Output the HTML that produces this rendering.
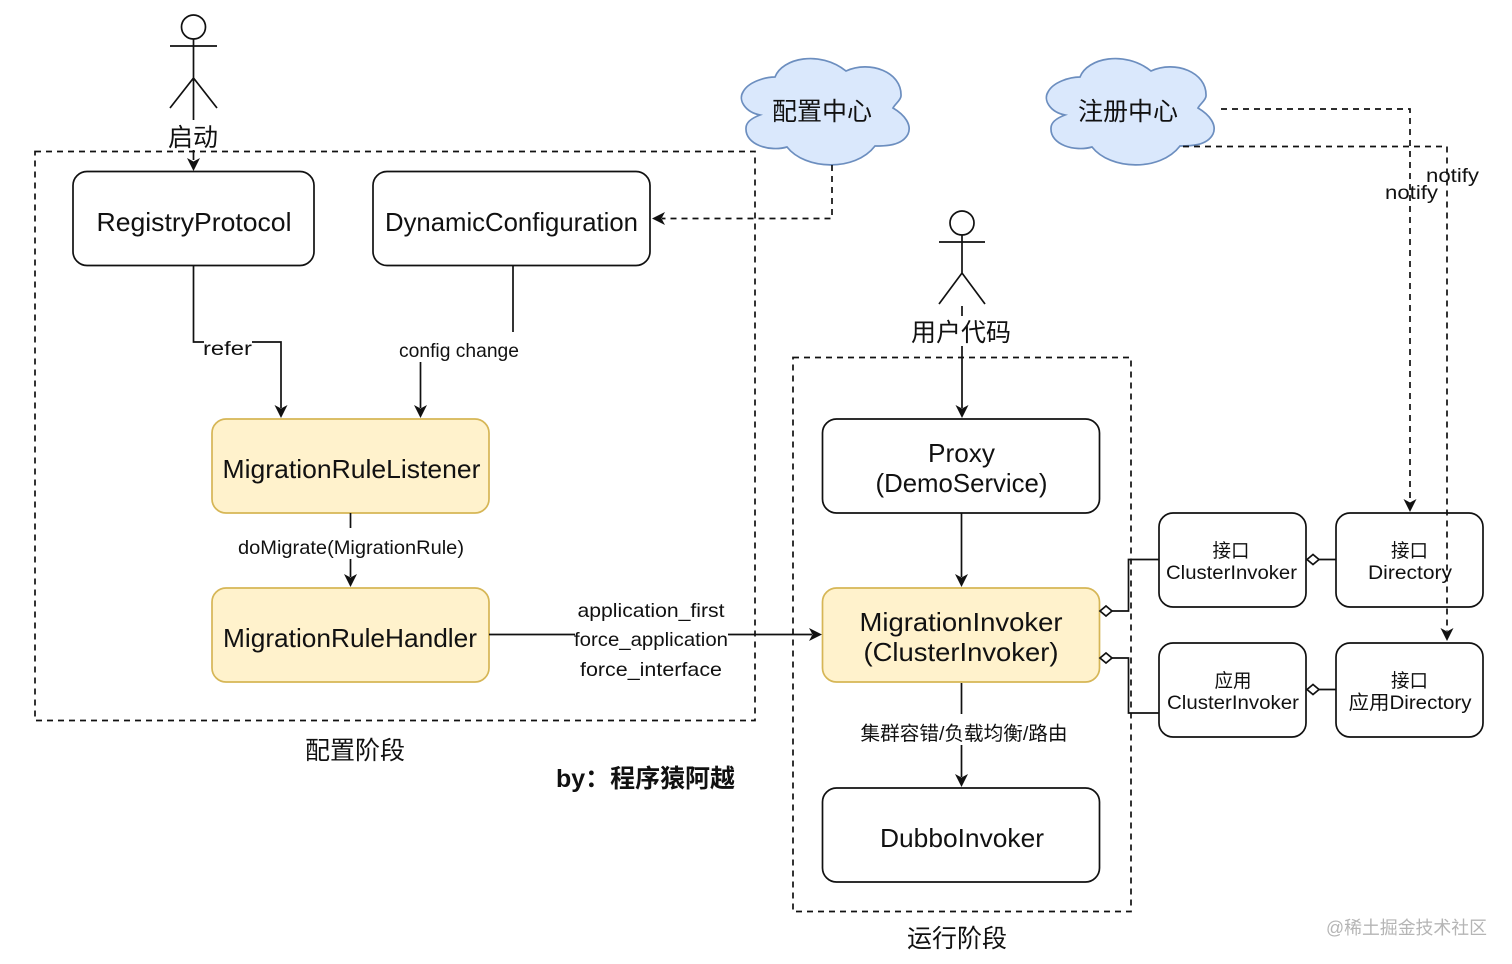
<!DOCTYPE html>
<html><head><meta charset="utf-8">
<style>
html,body{margin:0;padding:0;background:#fff;width:1512px;height:964px;overflow:hidden}
svg{display:block}
text{font-family:"Liberation Sans","Noto Sans CJK SC",sans-serif;fill:#111;text-anchor:middle}
.l{fill:none;stroke:#111;stroke-width:1.7}
.d{fill:none;stroke:#111;stroke-width:1.7;stroke-dasharray:6 5}
.n{fill:#fff;stroke:#111;stroke-width:1.7}
.y{fill:#fff2cc;stroke:#d6b656;stroke-width:1.7}
.c{fill:#dae8fc;stroke:#6c8ebf;stroke-width:1.7}
.a{fill:#111}
.dm{fill:#fff;stroke:#111;stroke-width:1.7}
</style></head><body>
<svg width="1512" height="964" viewBox="0 0 1512 964" xmlns="http://www.w3.org/2000/svg">
<rect x="35" y="151.500" width="720" height="569" class="d"/>
<rect x="793" y="357.500" width="338" height="554" class="d"/>

<circle cx="193.500" cy="27" r="12" class="l"/>
<path class="l" d="M193.500 39V120M170 46H217M170 108L193.500 78L217 108M193.500 150V160"/>
<path class="a" d="M187 158L193.500 161.500L200 158L193.500 171Z"/>
<circle cx="962" cy="223" r="12" class="l"/>
<path class="l" d="M962 235V273M939 242H985M939 304L962 273L985 304M962 306V316M962 346V408"/>
<path class="a" d="M955.500 405L962 408.500L968.500 405L962 418Z"/>

<path class="c" d="M775 77C782 58 820 50 846 71C870 60 902 72 901 96C901 100 895 104 893 108C905 115 912 125 908 134C902 146 885 146 875 146C855 172 805 170 787 147C770 152 745 145 746 128C746 122 752 118 760 115C745 112 738 100 743 92C748 82 765 77 775 77Z"/>
<path class="c" transform="translate(305 0)" d="M775 77C782 58 820 50 846 71C870 60 902 72 901 96C901 100 895 104 893 108C905 115 912 125 908 134C902 146 885 146 875 146C855 172 805 170 787 147C770 152 745 145 746 128C746 122 752 118 760 115C745 112 738 100 743 92C748 82 765 77 775 77Z"/>

<rect class="n" x="73" y="171.500" width="241" height="94" rx="14"/>
<rect class="n" x="373" y="171.500" width="277" height="94" rx="14"/>
<rect class="y" x="212" y="419" width="277" height="94" rx="14"/>
<rect class="y" x="212" y="588" width="277" height="94" rx="14"/>
<rect class="n" x="822.500" y="419" width="277" height="94" rx="14"/>
<rect class="y" x="822.500" y="588" width="277" height="94" rx="14"/>
<rect class="n" x="822.500" y="788" width="277" height="94" rx="14"/>
<rect class="n" x="1159" y="513" width="147" height="94" rx="14"/>
<rect class="n" x="1336" y="513" width="147" height="94" rx="14"/>
<rect class="n" x="1159" y="643" width="147" height="94" rx="14"/>
<rect class="n" x="1336" y="643" width="147" height="94" rx="14"/>

<path class="l" d="M193.500 265V342H204M252 342H281V408"/>
<path class="a" d="M274.500 405L281 408.500L287.500 405L281 418Z"/>
<path class="l" d="M513 265V332M420.500 362V408"/>
<path class="a" d="M414 405L420.500 408.500L427 405L420.500 418Z"/>
<path class="l" d="M350.500 513V528M350.500 559V577"/>
<path class="a" d="M344 574L350.500 577.500L357 574L350.500 587Z"/>
<path class="l" d="M489 634.500H575M728 634.500H812"/>
<path class="a" d="M809 628L812.500 634.500L809 641L822 634.500Z"/>
<path class="l" d="M961.500 513V577"/>
<path class="a" d="M955 574L961.500 577.500L968 574L961.500 587Z"/>
<path class="l" d="M961.500 683V714M961.500 745V777"/>
<path class="a" d="M955 774L961.500 777.500L968 774L961.500 787Z"/>

<path class="d" d="M832 165V218.500H662"/>
<path class="a" d="M665 212L661.500 218.500L665 225L652 218.500Z"/>
<path class="d" d="M1221 109H1410V502"/>
<path class="a" d="M1403.500 499L1410 502.500L1416.500 499L1410 512Z"/>
<path class="d" d="M1183 146.500H1447V631"/>
<path class="a" d="M1440.500 628L1447 631.500L1453.500 628L1447 641Z"/>

<path class="l" d="M1112 611H1128.500V559.500H1159M1112 658H1128.500V713H1159M1319 559.500H1336M1319 689.500H1336"/>
<path class="dm" d="M1100 611L1106 606L1112 611L1106 616Z"/>
<path class="dm" d="M1100 658L1106 653L1112 658L1106 663Z"/>
<path class="dm" d="M1307 559.500L1313 554.500L1319 559.500L1313 564.500Z"/>
<path class="dm" d="M1307 689.500L1313 684.500L1319 689.500L1313 694.500Z"/>

<text x="193" y="146" font-size="25" textLength="50" lengthAdjust="spacingAndGlyphs">启动</text>
<text x="961" y="341" font-size="25" textLength="100" lengthAdjust="spacingAndGlyphs">用户代码</text>
<text x="822" y="120" font-size="25" textLength="100" lengthAdjust="spacingAndGlyphs">配置中心</text>
<text x="1128" y="120" font-size="25" textLength="100" lengthAdjust="spacingAndGlyphs">注册中心</text>

<text x="194" y="231" font-size="26" textLength="195" lengthAdjust="spacingAndGlyphs">RegistryProtocol</text>
<text x="511.500" y="231" font-size="26" textLength="253" lengthAdjust="spacingAndGlyphs">DynamicConfiguration</text>
<text x="351.500" y="478" font-size="26" textLength="258" lengthAdjust="spacingAndGlyphs">MigrationRuleListener</text>
<text x="350" y="647" font-size="26" textLength="254" lengthAdjust="spacingAndGlyphs">MigrationRuleHandler</text>
<text x="961.500" y="462" font-size="26" textLength="67" lengthAdjust="spacingAndGlyphs">Proxy</text>
<text x="961.500" y="492" font-size="26" textLength="172" lengthAdjust="spacingAndGlyphs">(DemoService)</text>
<text x="961" y="631" font-size="26" textLength="203" lengthAdjust="spacingAndGlyphs">MigrationInvoker</text>
<text x="961" y="661" font-size="26" textLength="195" lengthAdjust="spacingAndGlyphs">(ClusterInvoker)</text>
<text x="962" y="847" font-size="26" textLength="164" lengthAdjust="spacingAndGlyphs">DubboInvoker</text>

<text x="1231" y="557" font-size="19" textLength="37" lengthAdjust="spacingAndGlyphs">接口</text>
<text x="1231.500" y="579" font-size="19.500" textLength="131" lengthAdjust="spacingAndGlyphs">ClusterInvoker</text>
<text x="1409.500" y="557" font-size="19" textLength="37" lengthAdjust="spacingAndGlyphs">接口</text>
<text x="1410" y="579" font-size="19.500" textLength="84" lengthAdjust="spacingAndGlyphs">Directory</text>
<text x="1233" y="687" font-size="19" textLength="37" lengthAdjust="spacingAndGlyphs">应用</text>
<text x="1233" y="709" font-size="19.500" textLength="132" lengthAdjust="spacingAndGlyphs">ClusterInvoker</text>
<text x="1409.500" y="687" font-size="19" textLength="37" lengthAdjust="spacingAndGlyphs">接口</text>
<text x="1410" y="709" font-size="19.500" textLength="123" lengthAdjust="spacingAndGlyphs">应用Directory</text>

<text x="227.500" y="355" font-size="19.500" textLength="49" lengthAdjust="spacingAndGlyphs">refer</text>
<text x="459" y="357" font-size="19.500" textLength="120" lengthAdjust="spacingAndGlyphs">config change</text>
<text x="351" y="554" font-size="19.500" textLength="226" lengthAdjust="spacingAndGlyphs">doMigrate(MigrationRule)</text>
<text x="651" y="617" font-size="19.500" textLength="147" lengthAdjust="spacingAndGlyphs">application_first</text>
<text x="651" y="646" font-size="19.500" textLength="154" lengthAdjust="spacingAndGlyphs">force_application</text>
<text x="651" y="676" font-size="19.500" textLength="142" lengthAdjust="spacingAndGlyphs">force_interface</text>
<text x="964" y="740" font-size="19.500" textLength="207" lengthAdjust="spacingAndGlyphs">集群容错/负载均衡/路由</text>
<text x="1452.500" y="182" font-size="19.500" textLength="53" lengthAdjust="spacingAndGlyphs">notify</text>
<text x="1411.500" y="199" font-size="19.500" textLength="53" lengthAdjust="spacingAndGlyphs">notify</text>

<text x="355" y="759" font-size="25" textLength="100" lengthAdjust="spacingAndGlyphs">配置阶段</text>
<text x="957" y="947" font-size="25" textLength="100" lengthAdjust="spacingAndGlyphs">运行阶段</text>
<text x="645.500" y="787" font-size="25" font-weight="700" textLength="179" lengthAdjust="spacingAndGlyphs">by：程序猿阿越</text>
<text x="1406.500" y="934" font-size="18" style="fill:#b5b5b5" textLength="161" lengthAdjust="spacingAndGlyphs">@稀土掘金技术社区</text>
</svg>
</body></html>
